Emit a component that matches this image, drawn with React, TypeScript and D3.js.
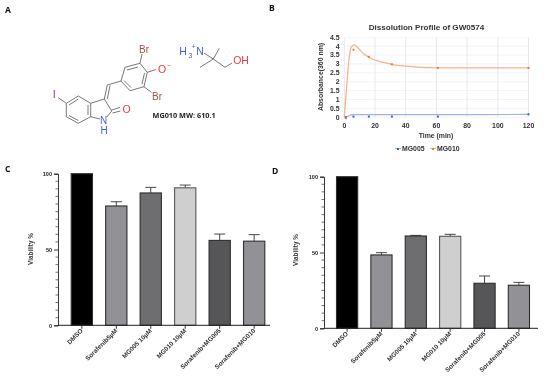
import React, { useEffect, useRef } from 'react';
import * as d3 from 'd3';

// panel B
const timeTicks = [0, 20, 40, 60, 80, 100, 120];
const absTicks = [0, 0.5, 1, 1.5, 2, 2.5, 3, 3.5, 4, 4.5];
const sampleTimes = [1, 6, 16, 31, 61, 120];
const mg005Values = [0, 0.04, 0.04, 0.04, 0.04, 0.17];
const mg010Values = [-0.05, 3.8, 3.4, 2.98, 2.78, 2.78];
const mg005Curve: [number, number][] = [[0, 0], [2, 0.04], [4, 0.12], [6, 0.15], [16, 0.15], [61, 0.15], [120, 0.16]];
const mg010Curve: [number, number][] = [[0, 0], [1.5, 1.7], [3, 3.2], [4.5, 3.95], [6.5, 4.07], [9, 3.9], [12, 3.62], [16, 3.38], [23, 3.14], [31, 2.98], [45, 2.84], [61, 2.78], [90, 2.78], [120, 2.78]];

// panels C and D
const groups = ['DMSO', 'Sorafenib5µM', 'MG005 10µM', 'MG010 10µM', 'Sorafenib+MG005', 'Sorafenib+MG010'];
const barFills = ['#000000', '#929296', '#6e6e70', '#cfcfcf', '#565658', '#929296'];
const viabilityC = [100, 78.7, 87.3, 90.7, 56, 55.5];
const errorTopC = [100, 81.5, 91, 92.5, 60.2, 59.8];
const viabilityD = [100, 48.4, 60.9, 60.7, 29.7, 28.4];
const errorTopD = [100, 49.9, 61.3, 62, 34.5, 30.3];
const viabilityTicks = [0, 50, 100];
const viabilityMinor = d3.range(0, 101, 5);

// panel A, structure drawing in page pixels
const bonds: [number, number, number, number][] = [
  [58, 97.5, 66.3, 103.3], [66.3, 103.3, 78.3, 96], [78.3, 96, 90.7, 103.3], [90.7, 103.3, 90.7, 116.7],
  [90.7, 116.7, 78.3, 123.3], [78.3, 123.3, 66.3, 116.7], [66.3, 116.7, 66.3, 103.3],
  [69, 105, 78.3, 99], [88, 105, 88, 115], [69, 115.5, 78.3, 120.5],
  [90.7, 103.3, 104.3, 99], [104.3, 99, 111.7, 111], [111.7, 111, 107, 117], [100, 119, 90.7, 116.7],
  [112.5, 113, 120.5, 111], [111.5, 110, 120, 107.5],
  [104.3, 99, 107.3, 85], [107.3, 99, 110, 85.5], [107.3, 85, 121, 81],
  [121, 81, 125, 67.3], [125, 67.3, 140, 63.3], [140, 63.3, 147.3, 72.3], [147.3, 72.3, 144, 86.7],
  [144, 86.7, 130, 90.7], [130, 90.7, 121, 81], [127, 70, 138, 67], [144.5, 73, 142, 84], [131, 87.5, 124, 80.5],
  [140, 63.3, 142, 54], [147.3, 72.3, 156, 69.5], [144, 86.7, 151.5, 92.5],
  [204, 53, 213.3, 59], [213.3, 59, 219.3, 48.3], [213.3, 59, 200, 67.3], [213.3, 59, 225, 67.3], [225, 67.3, 232, 63],
];
const atoms: [string, number, number, string, number][] = [
  ['I', 54.3, 98, '#a83aa8', 11],
  ['N', 103.5, 124, '#4a5cf0', 10],
  ['H', 104, 134, '#4a5cf0', 10],
  ['O', 126.5, 113, '#f03a3a', 10.5],
  ['Br', 144, 53, '#a85050', 10],
  ['O', 162, 73, '#f03a3a', 10.5],
  ['Br', 157, 100, '#a85050', 10],
  ['H', 183, 55, '#4a5cf0', 10.5],
  ['N', 200, 55, '#4a5cf0', 10.5],
  ['OH', 241, 64, '#f03a3a', 10.5],
];

const sans = "'Liberation Sans', Arial, sans-serif";

function drawBars(
  svg: d3.Selection<SVGSVGElement, unknown, null, undefined>,
  values: number[], tops: number[], axisX: number, axisEnd: number, first: number, last: number,
  y0: number, y100: number, labelX: number, labelY: number,
) {
  const x = d3.scaleBand<string>().domain(groups).range([first, last]).paddingInner(0.354).paddingOuter(0);
  const y = d3.scaleLinear().domain([0, 100]).range([y0, y100]);
  const g = svg.append('g').attr('font-family', sans);

  groups.forEach((name, i) => {
    const bx = x(name)!;
    const cx = bx + x.bandwidth() / 2;
    if (tops[i] > values[i]) {
      g.append('path')
        .attr('d', `M${cx},${y(values[i])}V${y(tops[i])}M${cx - 5.5},${y(tops[i])}H${cx + 5.5}`)
        .attr('stroke', '#333').attr('stroke-width', 0.9).attr('fill', 'none');
    }
    g.append('rect')
      .attr('x', bx + 0.5).attr('y', y(values[i]))
      .attr('width', x.bandwidth() - 1).attr('height', y0 - y(values[i]))
      .attr('fill', barFills[i])
      .attr('stroke', i === 3 ? '#58585a' : '#2e2e30').attr('stroke-width', 1.1);
  });

  const yAxis = d3.axisLeft(y).tickValues(viabilityTicks).tickSize(4).tickPadding(2);
  const ax = g.append('g').attr('transform', `translate(${axisX},0)`).call(yAxis);
  ax.selectAll('text').attr('font-size', 5.5).attr('font-weight', 'bold').attr('fill', '#222');
  ax.select('.domain').attr('stroke', '#222').attr('stroke-width', 0.9);
  ax.selectAll('.tick line').attr('stroke', '#222').attr('stroke-width', 0.9);
  viabilityMinor.filter(v => !viabilityTicks.includes(v)).forEach(v => {
    g.append('line').attr('x1', axisX - 2.5).attr('x2', axisX).attr('y1', y(v)).attr('y2', y(v))
      .attr('stroke', '#333').attr('stroke-width', 0.7);
  });

  g.append('line').attr('x1', axisX).attr('x2', axisEnd).attr('y1', y0).attr('y2', y0)
    .attr('stroke', '#222').attr('stroke-width', 1);
  groups.forEach(name => {
    const cx = x(name)! + x.bandwidth() / 2;
    g.append('line').attr('x1', cx).attr('x2', cx).attr('y1', y0).attr('y2', y0 + 3.5)
      .attr('stroke', '#222').attr('stroke-width', 0.9);
    g.append('text')
      .attr('transform', `translate(${cx + 1.5},${y0 + 6}) rotate(-45)`)
      .attr('text-anchor', 'end').attr('font-size', 6.4).attr('font-weight', 'bold').attr('fill', '#333')
      .text(name);
  });

  g.append('text')
    .attr('transform', `translate(${labelX},${labelY}) rotate(-90)`)
    .attr('text-anchor', 'middle').attr('font-size', 6.4).attr('font-weight', 'bold').attr('fill', '#333')
    .text('Viability %');
}

function App() {
  const ref = useRef<SVGSVGElement>(null);

  useEffect(() => {
    const svg = d3.select(ref.current!);
    svg.selectAll('*').remove();

    // panel letters
    [['A', 5, 13], ['B', 269, 11], ['C', 5, 172], ['D', 272, 174]].forEach(([t, px, py]) => {
      svg.append('text').attr('x', px as number).attr('y', py as number)
        .attr('font-family', "'Open Sans', sans-serif").attr('font-weight', 'bold').attr('font-size', 8.5)
        .attr('fill', '#111').text(t as string);
    });

    // panel A
    const mol = svg.append('g');
    mol.selectAll('line').data(bonds).join('line')
      .attr('x1', d => d[0]).attr('y1', d => d[1]).attr('x2', d => d[2]).attr('y2', d => d[3])
      .attr('stroke', '#555').attr('stroke-width', 0.8);
    mol.selectAll('text').data(atoms).join('text')
      .attr('x', d => d[1]).attr('y', d => d[2]).attr('fill', d => d[3]).attr('font-size', d => d[4])
      .attr('text-anchor', 'middle').attr('font-family', sans).text(d => d[0]);
    mol.append('text').attr('x', 188.5).attr('y', 58).attr('fill', '#4a5cf0').attr('font-size', 7).attr('font-family', sans).text('3');
    mol.append('text').attr('x', 191.5).attr('y', 49).attr('fill', '#4a5cf0').attr('font-size', 7).attr('font-family', sans).text('+');
    mol.append('text').attr('x', 167).attr('y', 68).attr('fill', '#f03a3a').attr('font-size', 7).attr('font-family', sans).text('−');
    svg.append('text').attr('x', 152.5).attr('y', 118).attr('font-family', "'Open Sans', sans-serif")
      .attr('font-weight', 'bold').attr('font-size', 7.3).attr('fill', '#222').text('MG010 MW: 610.1');

    // panel B
    const x = d3.scaleLinear().domain([0, 120]).range([344.3, 528.5]);
    const y = d3.scaleLinear().domain([0, 4.5]).range([117.3, 37.3]);
    const b = svg.append('g').attr('font-family', sans);
    timeTicks.forEach(t => {
      b.append('line').attr('x1', x(t)).attr('x2', x(t)).attr('y1', y(4.5)).attr('y2', y(0))
        .attr('stroke', '#dfe4f0').attr('stroke-width', 0.8);
    });
    absTicks.forEach(v => {
      b.append('line').attr('x1', x(0)).attr('x2', x(120)).attr('y1', y(v)).attr('y2', y(v))
        .attr('stroke', '#e8ebf3').attr('stroke-width', 0.6);
    });
    const line = d3.line<[number, number]>().x(d => x(d[0])).y(d => y(d[1])).curve(d3.curveMonotoneX);
    b.append('path').attr('d', line(mg005Curve)).attr('fill', 'none').attr('stroke', '#9db4e4').attr('stroke-width', 1.2);
    b.append('path').attr('d', line(mg010Curve)).attr('fill', 'none').attr('stroke', '#f6b48c').attr('stroke-width', 1.3);
    sampleTimes.forEach((t, i) => {
      b.append('rect').attr('x', x(t) - 1).attr('y', y(mg005Values[i]) - 1).attr('width', 2).attr('height', 2).attr('fill', '#3565c4');
      b.append('rect').attr('x', x(t) - 1).attr('y', y(mg010Values[i]) - 1).attr('width', 2).attr('height', 2).attr('fill', '#ee7b35');
    });
    const tickText = (s: d3.Selection<SVGTextElement, unknown, null, undefined>) =>
      s.attr('font-size', 6.9).attr('font-weight', 'bold').attr('fill', '#333');
    timeTicks.forEach(t => {
      b.append('text').attr('x', x(t)).attr('y', 128).attr('text-anchor', 'middle').call(tickText).text(t);
    });
    absTicks.forEach(v => {
      b.append('text').attr('x', 339.5).attr('y', y(v) + 2.4).attr('text-anchor', 'end').call(tickText).text(v);
    });
    b.append('text').attr('x', 436).attr('y', 137.5).attr('text-anchor', 'middle').call(tickText).text('Time (min)');
    b.append('text').attr('transform', 'translate(323,77) rotate(-90)').attr('text-anchor', 'middle').call(tickText).text('Absorbance(360 nm)');
    b.append('text').attr('x', 426.5).attr('y', 30).attr('text-anchor', 'middle')
      .attr('font-size', 8.1).attr('font-weight', 'bold').attr('fill', '#333').text('Dissolution Profile of GW0574');
    b.append('line').attr('x1', 395).attr('x2', 401).attr('y1', 148.5).attr('y2', 148.5).attr('stroke', '#9db4e4').attr('stroke-width', 1.2);
    b.append('rect').attr('x', 397).attr('y', 148).attr('width', 2).attr('height', 2).attr('fill', '#3565c4');
    b.append('text').attr('x', 402).attr('y', 151).call(tickText).text('MG005');
    b.append('line').attr('x1', 430).attr('x2', 436).attr('y1', 148.5).attr('y2', 148.5).attr('stroke', '#f6b48c').attr('stroke-width', 1.2);
    b.append('rect').attr('x', 432).attr('y', 148).attr('width', 2).attr('height', 2).attr('fill', '#ee7b35');
    b.append('text').attr('x', 437).attr('y', 151).call(tickText).text('MG010');

    // panels C, D
    drawBars(svg, viabilityC, errorTopC, 58, 270, 70.7, 265.3, 325.3, 173.7, 33, 249);
    drawBars(svg, viabilityD, errorTopD, 324, 538, 336, 530, 328.3, 176.7, 298, 250);
  }, []);

  return (
    <svg ref={ref} width={550} height={379} style={{ position: 'absolute', left: 0, top: 0, background: '#fff', filter: 'blur(0.3px)' }} />
  );
}

export default App;
